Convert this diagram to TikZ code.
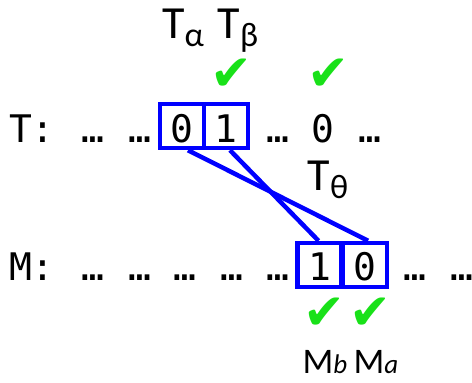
\documentclass[tikz,border=0pt]{standalone}
\usepackage{fontspec}
\setmainfont{Carlito}
\setmonofont{DejaVu Sans Mono}
\newfontfamily\tickfont{DejaVu Sans}

\definecolor{tickgreen}{RGB}{25,225,25}
\newcommand{\lowsub}[1]{\raisebox{-8pt}{\fontsize{34}{34}\selectfont #1}}
\newcommand{\italsub}[1]{{\fontsize{27}{27}\selectfont\itshape #1}}

\tikzset{
  tape/.style={font=\fontsize{38}{38}\selectfont\ttfamily, inner sep=0pt, anchor=base},
  cell/.style={tape, draw=blue, line width=4.5pt, text width=44pt, align=center},
  toprow/.style={text height=38pt, text depth=6pt},
  lowrow/.style={text height=37pt, text depth=7pt},
  link/.style={draw=blue, line width=4.5pt},
  tick/.style={font=\fontsize{50}{50}\selectfont\tickfont, text=tickgreen, inner sep=0pt},
  lab/.style={font=\fontsize{46}{46}\selectfont, inner sep=0pt, anchor=base},
}

\begin{document}
\begin{tikzpicture}[x=1pt,y=-1pt]
  \useasboundingbox (0,0) rectangle (472,383);
  \clip (0,0) rectangle (472,383);
  % the T row
  \node[tape] (tname) at (32,142) {T:};
  \node[tape] (tdots1) at (93,142) {…};
  \node[tape] (tdots2) at (140,142) {…};
  \node[cell,toprow] (ta) at (182,142) {0};
  \node[cell,toprow] (tb) at (226,142) {1};
  \node[tape] (tdots3) at (278,142) {…};
  \node[tape] (ttheta) at (323,142) {0};
  \node[tape] (tdots4) at (370,142) {…};
  % the M row
  \node[tape] (mname) at (32,280) {M:};
  \foreach \x [count=\i] in {93,140,185,232,278}
    \node[tape] (mdots\i) at (\x,280) {…};
  \node[cell,lowrow] (mb) at (319.5,280) {1};
  \node[cell,lowrow] (ma) at (365,280) {0};
  \node[tape] (mdots6) at (415,280) {…};
  \node[tape] (mdots7) at (462,280) {…};
  % the crossing
  \draw[link] ([xshift=6pt]ta.south) -- ([xshift=3pt]ma.north);
  \draw[link] ([xshift=4pt]tb.south) -- ([xshift=-1pt]mb.north);
  % ticks
  \node[tick] (tickb) at (231,75) {✔};
  \node[tick] (ticktheta) at (328,75) {✔};
  \node[tick] (tickmb) at (324,314) {✔};
  \node[tick] (tickma) at (370,314) {✔};
  % labels
  \node[lab] (labalpha) at (183,38) {T\lowsub{α}};
  \node[lab] (labbeta) at (238,38) {T\lowsub{β}};
  \node[lab] (labtheta) at (328,190) {T\lowsub{θ}};
  \node[lab,font=\fontsize{36}{36}\selectfont] (labmb) at (325,373) {M\italsub{b}};
  \node[lab,font=\fontsize{36}{36}\selectfont] (labma) at (376,373) {M\italsub{a}};
\end{tikzpicture}
\end{document}
